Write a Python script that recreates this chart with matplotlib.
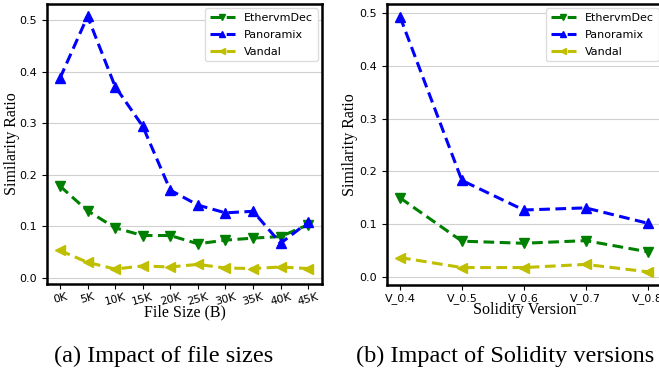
import matplotlib.pyplot as plt

# data
sizes = ['0K', '5K', '10K', '15K', '20K', '25K', '30K', '35K', '40K', '45K']
ethervm_size = [0.178, 0.130, 0.097, 0.082, 0.082, 0.066, 0.073, 0.077, 0.080, 0.103]
panoramix_size = [0.387, 0.507, 0.371, 0.294, 0.170, 0.141, 0.126, 0.129, 0.067, 0.108]
vandal_size = [0.053, 0.030, 0.017, 0.023, 0.021, 0.026, 0.019, 0.018, 0.021, 0.018]

versions = ['V_0.4', 'V_0.5', 'V_0.6', 'V_0.7', 'V_0.8']
ethervm_ver = [0.150, 0.068, 0.064, 0.069, 0.048]
panoramix_ver = [0.493, 0.183, 0.127, 0.131, 0.102]
vandal_ver = [0.037, 0.018, 0.018, 0.024, 0.010]

W, H = 659, 371
fig = plt.figure(figsize=(W / 100, H / 100), dpi=100)

serif = ['Liberation Serif', 'DejaVu Serif']


def draw(ax, labels, eth, pan, van, rot):
    x = list(range(len(labels)))
    ax.plot(x, eth, '--', color='green', marker='v', lw=2.2, ms=7, dashes=(3.5, 1.8), label='EthervmDec')
    ax.plot(x, pan, '--', color='blue', marker='^', lw=2.2, ms=7, dashes=(3.5, 1.8), label='Panoramix')
    ax.plot(x, van, '--', color='y', marker='<', lw=2.2, ms=7, dashes=(3.5, 1.8), label='Vandal')
    ax.set_xticks(x)
    ax.set_xticklabels(labels, rotation=rot, fontsize=8)
    ax.set_yticks([0.0, 0.1, 0.2, 0.3, 0.4, 0.5])
    ax.tick_params(axis='y', labelsize=8)
    ax.tick_params(axis='x', pad=2)
    ax.grid(axis='y', color='#d0d0d0', lw=0.8)
    ax.set_axisbelow(True)
    for s in ax.spines.values():
        s.set_linewidth(1.8)
    ax.set_ylabel('Similarity Ratio', fontsize=11.5, family=serif)
    ax.legend(loc='upper right', fontsize=8, handlelength=2.3, borderaxespad=0.4,
              labelspacing=0.62, handletextpad=0.8, markerscale=0.7, fancybox=True,
              framealpha=1, edgecolor='#dddddd')


# left panel
ax1 = fig.add_axes([47 / W, 1 - 284 / H, 275 / W, 280 / H])
draw(ax1, sizes, ethervm_size, panoramix_size, vandal_size, 15)
ax1.set_xlim(-0.47, 9.5)
ax1.set_ylim(-0.012, 0.531)
ax1.set_xlabel('File Size (B)', fontsize=11.5, family=serif, labelpad=-2)
ax1.yaxis.set_label_coords(-0.098, 0.5)

# right panel
ax2 = fig.add_axes([387 / W, 1 - 285 / H, 276 / W, 281 / H])
draw(ax2, versions, ethervm_ver, panoramix_ver, vandal_ver, 0)
ax2.set_xlim(-0.21, 4.25)
ax2.set_ylim(-0.015, 0.517)
ax2.set_xlabel('Solidity Version', fontsize=11.5, family=serif, labelpad=-1)
ax2.yaxis.set_label_coords(-0.105, 0.5)

fig.text(164 / W, 1 - 356 / H, '(a) Impact of file sizes', fontsize=17.5, family=serif,
         ha='center', va='center')
fig.text(505 / W, 1 - 356 / H, '(b) Impact of Solidity versions', fontsize=17.5, family=serif,
         ha='center', va='center')

fig.savefig('out.png', dpi=100)
